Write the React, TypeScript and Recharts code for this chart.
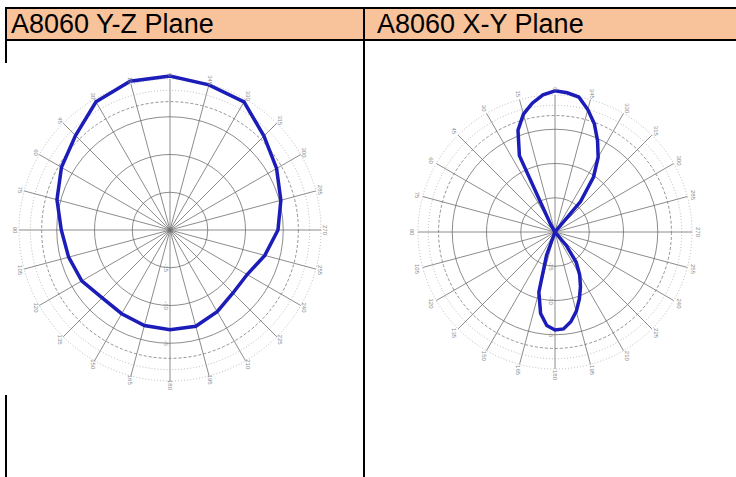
import React from "react";
import {
  RadarChart,
  Radar,
  PolarGrid,
  PolarAngleAxis,
  PolarRadiusAxis,
} from "recharts";

// angle labels around both plots (degrees, counter-clockwise from top)
const angleTicks = [
  0, 15, 30, 45, 60, 75, 90, 105, 120, 135, 150, 165, 180, 195, 210, 225, 240,
  255, 270, 285, 300, 315, 330, 345,
];

// rings in dB
const solidRings = [-15, -10, -5];
const dashedRings = [-3];
const dottedRings = [-1.5, 0];
const radiusLabels = [-15, -10, -5];

// Y-Z plane, gain in dB
const yzAngles = angleTicks;
const yzGain = [
  0.4, 0.4, -0.4, -2.3, -3.4, -4.5, -5.6, -6.1, -6.5, -7.3, -7.2, -6.9, -6.8,
  -6.8, -7.5, -8.2, -8.2, -7.0, -5.7, -4.8, -3.7, -2.4, -0.4, -0.1,
];

// X-Y plane, gain in dB (figure eight)
const xyAngles = [
  0, 5, 10, 15, 20, 25, 30, 45, 60, 75, 90, 105, 120, 135, 150, 155, 160, 165,
  170, 175, 180, 185, 190, 195, 200, 205, 210, 215, 220, 225, 240, 255, 270,
  285, 300, 315, 320, 325, 330, 335, 340, 345, 350, 355,
];
const xyGain = [
  0.6, 0.1, -0.9, -2.2, -4.2, -7.7, -18.8, -20, -20, -20, -20, -20, -20, -20,
  -20, -20, -16.4, -10.9, -7.9, -6.3, -5.7, -5.8, -6.7, -8.0, -9.6, -11.2,
  -12.8, -14.6, -17.4, -20, -20, -20, -20, -20, -20, -20, -14.2, -10.2, -7.4,
  -5.3, -3.2, -1.5, 0.0, 0.4,
];

const MIN_DB = -20;
const MAX_DB = 0;

const toRows = (angles: number[], gain: number[]) =>
  angles.map((a, i) => ({ angle: a, gain: gain[i] }));

const ringPx = (db: number, r0: number) =>
  (r0 * (db - MIN_DB)) / (MAX_DB - MIN_DB);

const AngleTick = (props: any) => {
  const { x, y, payload } = props;
  return (
    <text
      x={x}
      y={y}
      transform={`rotate(90 ${x} ${y})`}
      textAnchor="middle"
      dominantBaseline="central"
      fontSize={6}
      fill="#8c8c8c"
      fontFamily="Arial, 'Liberation Sans', sans-serif"
    >
      {payload.value}
    </text>
  );
};

const RadiusTick = (props: any) => {
  const { x, y, payload } = props;
  if (!radiusLabels.includes(payload.value)) return null;
  return (
    <text
      x={x - 4}
      y={y}
      transform={`rotate(90 ${x - 4} ${y})`}
      textAnchor="middle"
      dominantBaseline="central"
      fontSize={6}
      fill="#8c8c8c"
      fontFamily="Arial, 'Liberation Sans', sans-serif"
    >
      {payload.value}
    </text>
  );
};

interface PolarPlotProps {
  rows: { angle: number; gain: number }[];
  width: number;
  height: number;
  cx: number;
  cy: number;
  r0: number;
  tickGap: number;
}

const PolarPlot: React.FC<PolarPlotProps> = ({
  rows,
  width,
  height,
  cx,
  cy,
  r0,
  tickGap,
}) => (
  <RadarChart
    width={width}
    height={height}
    data={rows}
    cx={cx}
    cy={cy}
    outerRadius={r0}
    startAngle={90}
    endAngle={450}
    margin={{ top: 0, right: 0, bottom: 0, left: 0 }}
  >
    <PolarGrid
      gridType="circle"
      polarRadius={solidRings.map((d) => ringPx(d, r0))}
      stroke="#6e6e6e"
      strokeWidth={0.8}
    />
    <PolarGrid
      gridType="circle"
      radialLines={false}
      polarRadius={dashedRings.map((d) => ringPx(d, r0))}
      stroke="#777"
      strokeWidth={0.8}
      strokeDasharray="3 2"
    />
    <PolarGrid
      gridType="circle"
      radialLines={false}
      polarRadius={dottedRings.map((d) => ringPx(d, r0))}
      stroke="#a8a8a8"
      strokeWidth={0.8}
      strokeDasharray="1 2"
    />
    <PolarAngleAxis
      dataKey="angle"
      type="number"
      domain={[0, 360]}
      ticks={angleTicks}
      tick={<AngleTick />}
      tickLine={false}
      tickSize={tickGap}
      axisLine={false}
    />
    <PolarRadiusAxis
      angle={270}
      domain={[MIN_DB, MAX_DB]}
      allowDataOverflow
      tickCount={5}
      tick={<RadiusTick />}
      axisLine={false}
      tickLine={false}
    />
    <Radar
      dataKey="gain"
      stroke="#1c1cb8"
      strokeWidth={3.5}
      fill="none"
      fillOpacity={0}
      dot={false}
      isAnimationActive={false}
    />
  </RadarChart>
);

const headerText: React.CSSProperties = {
  position: "absolute",
  top: 8,
  height: 32,
  lineHeight: "32px",
  fontFamily: "Arial, 'Liberation Sans', sans-serif",
  fontSize: 27,
  color: "#000",
  whiteSpace: "nowrap",
};

export default function App() {
  const yzRows = toRows(yzAngles, yzGain);
  const xyRows = toRows(xyAngles, xyGain);
  return (
    <div
      style={{
        position: "absolute",
        left: 0,
        top: 0,
        width: 736,
        height: 477,
        background: "#fff",
        overflow: "hidden",
      }}
    >
      {/* header band */}
      <div
        style={{
          position: "absolute",
          left: 5,
          top: 8,
          width: 731,
          height: 32,
          background: "#f8c29b",
        }}
      />
      <div style={{ ...headerText, left: 11 }}>A8060 Y-Z Plane</div>
      <div style={{ ...headerText, left: 377 }}>A8060 X-Y Plane</div>

      {/* table rules */}
      <div style={{ position: "absolute", left: 5, top: 7, width: 731, height: 2, background: "#000" }} />
      <div style={{ position: "absolute", left: 5, top: 39, width: 731, height: 2, background: "#000" }} />
      <div style={{ position: "absolute", left: 363, top: 7, width: 2, height: 470, background: "#000" }} />
      <div style={{ position: "absolute", left: 5, top: 7, width: 2, height: 56, background: "#000" }} />
      <div style={{ position: "absolute", left: 5, top: 395, width: 2, height: 82, background: "#000" }} />

      <div style={{ position: "absolute", left: 0, top: 0 }}>
        <PolarPlot rows={yzRows} width={362} height={477} cx={170} cy={230} r0={151} tickGap={4} />
      </div>
      <div style={{ position: "absolute", left: 366, top: 0 }}>
        <PolarPlot rows={xyRows} width={370} height={477} cx={189} cy={232} r0={137} tickGap={6} />
      </div>
    </div>
  );
}
